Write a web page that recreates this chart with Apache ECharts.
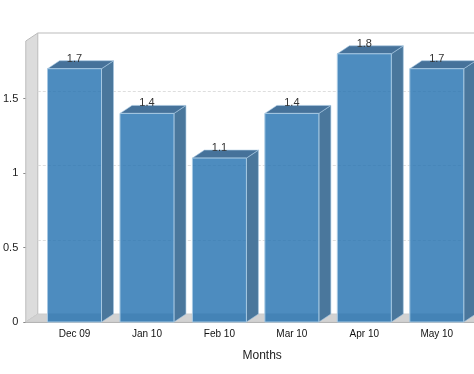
<!DOCTYPE html>
<html><head><meta charset="utf-8">
<style>html,body{margin:0;padding:0;background:#fff}#c{width:474px;height:374px}</style>
<script src="https://cdn.jsdelivr.net/npm/echarts@6/dist/echarts.min.js"></script>
</head><body><div id="c"></div>
<script>
const categories = ['Dec 09','Jan 10','Feb 10','Mar 10','Apr 10','May 10'];
const values = [1.7,1.4,1.1,1.4,1.8,1.7];
const yTicks = [0,0.5,1,1.5];
const gridValues = [0.5,1,1.5];
const yMax = 1.886;
const DX = 12, DY = 8;
const chart = echarts.init(document.getElementById('c'), null, {renderer:'canvas'});

function renderWalls(params, api){
  const cs = params.coordSys;
  const x0 = cs.x, y0 = cs.y, x1 = cs.x + cs.width, y1 = cs.y + cs.height;
  const lx = x0 - 12.5;
  const children = [
    {type:'polygon', shape:{points:[[lx,y0],[lx+DX,y0-DY],[lx+DX,y1-DY],[lx,y1]]},
      style:{fill:'#dcdcdc', stroke:'#bcbcbc', lineWidth:1}},
    {type:'polygon', shape:{points:[[lx,y1],[lx+DX,y1-DY],[x1+DX,y1-DY],[x1,y1]]},
      style:{fill:'#d2d2d2', stroke:'#cccccc', lineWidth:1}},
    {type:'line', shape:{x1:lx+DX,y1:y0-DY,x2:x1+DX,y2:y0-DY}, style:{stroke:'#bcbcbc', lineWidth:1.2}},
    {type:'line', shape:{x1:lx,y1:y1+0.5,x2:x1+DX,y2:y1+0.5}, style:{stroke:'#b4b4b4', lineWidth:1}}
  ];
  return {type:'group', children};
}
function renderGrid(params, api){
  const p = api.coord([0, api.value(0)]);
  const cs = params.coordSys;
  const y = Math.round(p[1]) - DY + 0.5;
  return {type:'line', shape:{x1:cs.x-12.5+DX,y1:y,x2:cs.x+cs.width+DX,y2:y},
    style:{stroke:'#dedede', lineWidth:1, lineDash:[3,2]}};
}
function renderBar(params, api){
  const i = api.value(0), v = api.value(1);
  const top = api.coord([i, v]), base = api.coord([i, 0]);
  const w = api.size([1,0])[0] * 0.745;
  const l = top[0] - w/2, r = top[0] + w/2, t = top[1], b = base[1];
  const edge = '#a6c8e2';
  return {type:'group', children:[
    {type:'polygon', z2:1, shape:{points:[[r,t],[r+DX,t-DY],[r+DX,b-DY],[r,b]]},
      style:{fill:'#4a779c', stroke:edge, lineWidth:0.6}},
    {type:'polygon', z2:2, shape:{points:[[l,t],[l+DX,t-DY],[r+DX,t-DY],[r,t]]},
      style:{fill:'#46729a', stroke:edge, lineWidth:0.6}},
    {type:'rect', z2:3, shape:{x:l,y:t,width:r-l,height:b-t},
      style:{fill:'rgba(32,111,175,0.8)', stroke:edge, lineWidth:1}},
    {type:'text', z2:4, style:{text:String(v), x:top[0], y:t-10, align:'center', verticalAlign:'middle',
      font:'11px "Liberation Sans"', fill:'#333'}}
  ]};
}
chart.setOption({
  animation:false,
  backgroundColor:'#fff',
  grid:{left:37, top:41, width:436, height:281},
  xAxis:{type:'category', data:categories, name:'Months', nameLocation:'middle', nameGap:28,
    nameTextStyle:{fontFamily:'Liberation Sans', fontSize:12, color:'#222', padding:[0,0,0,13]},
    axisLine:{show:false}, axisTick:{show:false},
    axisLabel:{fontFamily:'Liberation Sans', fontSize:10, color:'#111', margin:7, interval:0},
    splitLine:{show:false}},
  yAxis:{type:'value', min:0, max:yMax, interval:0.5, offset:12,
    axisLine:{show:false},
    axisTick:{show:true, length:3, lineStyle:{color:'#888'}, customValues:yTicks},
    axisLabel:{fontFamily:'Liberation Sans', fontSize:11, color:'#222', margin:8, customValues:yTicks},
    splitLine:{show:false}},
  series:[
    {type:'custom', z:1, silent:true, clip:false, data:[[0]], renderItem:renderWalls, encode:{x:0}},
    {type:'custom', z:2, silent:true, clip:false, data:gridValues.map(v=>[v]), renderItem:renderGrid, encode:{y:0}},
    {type:'custom', z:3, silent:true, clip:false, data:values.map((v,i)=>[i,v]), renderItem:renderBar, encode:{x:0,y:1}}
  ]
});
</script></body></html>
